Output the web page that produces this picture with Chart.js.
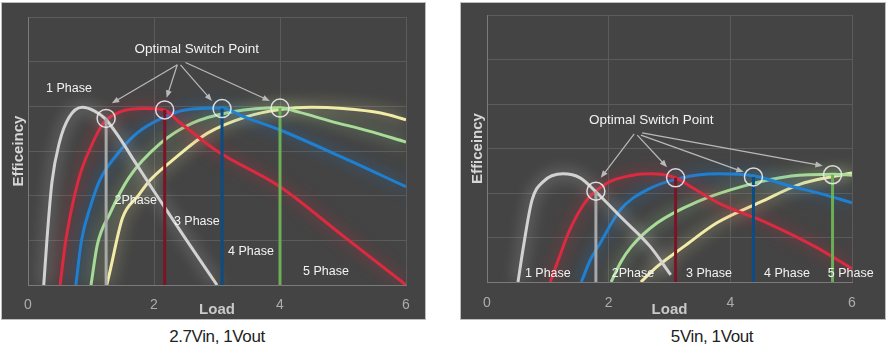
<!DOCTYPE html>
<html>
<head>
<meta charset="utf-8">
<script src="https://cdn.jsdelivr.net/npm/chart.js@4.4.0/dist/chart.umd.min.js"></script>
<style>
  body { margin: 0; width: 888px; height: 359px; background: #fff; position: relative; overflow: hidden;
         font-family: "Liberation Sans", Arial, sans-serif; }
  .box { position: absolute; top: 3px; height: 316px; background: #444; box-shadow: 0 0 0 1px #bdbdbd; }
  #boxL { left: 2px; width: 423px; }
  #boxR { left: 461px; width: 424px; }
  .cap { position: absolute; top: 328px; width: 220px; text-align: center; font-size: 17px;
         line-height: 17px; color: #222; letter-spacing: -0.4px; }
</style>
</head>
<body>
<div class="box" id="boxL"><canvas id="chartL" width="423" height="316"></canvas></div>
<div class="box" id="boxR"><canvas id="chartR" width="424" height="316"></canvas></div>
<div class="cap" style="left:107px">2.7Vin, 1Vout</div>
<div class="cap" style="left:602px">5Vin, 1Vout</div>

<script>
// ---- data (load, efficiency) ----
var xTicks = [0, 2, 4, 6];
var phaseNames = ['1 Phase', '2Phase', '3 Phase', '4 Phase', '5 Phase'];

// 2.7Vin, 1Vout
var l1Load = [0.25, 0.3, 0.38, 0.5, 0.65, 0.86, 1.05, 1.22, 1.45, 1.7, 2.0, 2.5, 3.0];
var l1Eff  = [0, 1.0, 2.3, 3.2, 3.75, 3.98, 3.9, 3.73, 3.3, 2.75, 2.1, 1.04, 0];
var l2Load = [0.51, 0.6, 0.8, 1.0, 1.2, 1.45, 1.85, 2.16, 2.4, 3.0, 4.0, 5.0, 6.0];
var l2Eff  = [0, 1.0, 2.35, 3.1, 3.63, 3.87, 3.95, 3.92, 3.65, 3.0, 2.2, 1.1, 0];
var l3Load = [0.76, 0.85, 1.0, 1.14, 1.4, 1.73, 2.1, 2.5, 3.08, 3.4, 4.0, 5.0, 6.0];
var l3Eff  = [0, 1.0, 1.8, 2.35, 2.9, 3.4, 3.72, 3.92, 3.96, 3.78, 3.47, 2.85, 2.2];
var l4Load = [1.0, 1.1, 1.3, 1.6, 2.1, 2.6, 3.25, 4.0, 4.3, 4.8, 5.4, 6.0];
var l4Eff  = [0, 0.9, 1.6, 2.4, 3.17, 3.62, 3.88, 3.97, 3.87, 3.67, 3.45, 3.2];
var l5Load = [1.25, 1.3, 1.5, 1.75, 1.94, 2.3, 2.85, 3.45, 4.0, 4.5, 5.0, 5.6, 6.0];
var l5Eff  = [0, 0.3, 1.5, 2.0, 2.35, 2.8, 3.4, 3.76, 3.93, 3.98, 3.95, 3.85, 3.7];
var lSwitchLoad = [1.24, 2.17, 3.08, 4.0];
var lSwitchEff  = [3.73, 3.92, 3.95, 3.96];

// 5Vin, 1Vout
var r1Load = [0.51, 0.59, 0.74, 0.92, 1.25, 1.53, 1.78, 2.2, 2.68, 3.02];
var r1Eff  = [0, 0.72, 1.84, 2.25, 2.43, 2.34, 2.04, 1.46, 0.8, 0.16];
var r2Load = [1.04, 1.2, 1.36, 1.64, 1.97, 2.4, 2.7, 3.1, 3.4, 3.8, 4.6, 5.4, 6.0];
var r2Eff  = [0, 0.6, 1.17, 1.84, 2.22, 2.4, 2.43, 2.34, 2.1, 1.78, 1.33, 0.79, 0.3];
var r3Load = [1.55, 1.7, 1.86, 2.19, 2.63, 3.2, 3.8, 4.4, 5.0, 5.5, 6.0];
var r3Eff  = [0, 0.5, 0.87, 1.62, 2.07, 2.34, 2.43, 2.38, 2.15, 1.98, 1.78];
var r4Load = [2.04, 2.2, 2.37, 2.8, 3.45, 4.2, 5.0, 5.7, 6.0];
var r4Eff  = [0, 0.45, 0.79, 1.33, 1.8, 2.15, 2.38, 2.42, 2.4];
var r5Load = [2.53, 2.8, 3.24, 3.78, 4.5, 5.15, 5.6, 6.0];
var r5Eff  = [0, 0.35, 0.8, 1.33, 1.8, 2.2, 2.35, 2.45];
var rSwitchLoad = [1.79, 3.1, 4.38, 5.68];
var rSwitchEff  = [2.04, 2.34, 2.36, 2.41];

var curveColors = ['#d2d2d2', '#dc2a40', '#1f80d2', '#a8dc98', '#f2eca8'];
var stemColors  = ['#a8a8a8', '#7d1426', '#0b4c84', '#6cae55'];

function pts(xs, ys) {
  return xs.map(function (x, i) { return {x: x, y: ys[i]}; });
}

function hexA(hex, a) {
  var n = parseInt(hex.slice(1), 16);
  return 'rgba(' + (n >> 16) + ',' + ((n >> 8) & 255) + ',' + (n & 255) + ',' + a + ')';
}

function buildDatasets(curves, swLoad, swEff) {
  var sets = [];
  curves.forEach(function (c, i) {
    sets.push({
      data: pts(c[0], c[1]), showLine: true, borderColor: curveColors[i], borderWidth: 3,
      pointRadius: 0, cubicInterpolationMode: 'monotone', glow: hexA(curveColors[i], 0.8), order: 3
    });
  });
  swLoad.forEach(function (x, i) {
    sets.push({
      data: [{x: x, y: 0}, {x: x, y: swEff[i]}], showLine: true, borderColor: stemColors[i],
      borderWidth: 3, pointRadius: 0, order: 2
    });
  });
  sets.push({
    data: pts(swLoad, swEff), showLine: false, pointRadius: 9, pointBorderWidth: 1.5,
    pointBorderColor: 'rgba(235,235,235,0.9)', pointBackgroundColor: 'rgba(0,0,0,0)', order: 1
  });
  return sets;
}

// soft halo round each curve
var glowPlugin = {
  id: 'glow',
  beforeDatasetDraw: function (chart, args) {
    var ds = chart.data.datasets[args.index];
    chart.ctx.save();
    if (ds.glow) {
      chart.ctx.shadowColor = ds.glow;
      chart.ctx.shadowBlur = 15;
    }
  },
  afterDatasetDraw: function (chart) {
    chart.ctx.restore();
  }
};

// "Optimal Switch Point" with arrows, and the phase labels
var notesPlugin = {
  id: 'notes',
  afterDatasetsDraw: function (chart, args, opts) {
    var ctx = chart.ctx, sx = chart.scales.x, sy = chart.scales.y;
    function px(p) { return [sx.getPixelForValue(p[0]), sy.getPixelForValue(p[1])]; }
    ctx.save();
    ctx.strokeStyle = '#b9b9b9';
    ctx.fillStyle = '#b9b9b9';
    ctx.lineWidth = 1.2;
    opts.arrows.forEach(function (a) {
      var s = px(a[0]), e = px(a[1]);
      var ang = Math.atan2(e[1] - s[1], e[0] - s[0]), h = 8;
      ctx.beginPath();
      ctx.moveTo(s[0], s[1]);
      ctx.lineTo(e[0] - h * 0.8 * Math.cos(ang), e[1] - h * 0.8 * Math.sin(ang));
      ctx.stroke();
      ctx.beginPath();
      ctx.moveTo(e[0], e[1]);
      ctx.lineTo(e[0] - h * Math.cos(ang - 0.38), e[1] - h * Math.sin(ang - 0.38));
      ctx.lineTo(e[0] - h * Math.cos(ang + 0.38), e[1] - h * Math.sin(ang + 0.38));
      ctx.closePath();
      ctx.fill();
    });
    ctx.textAlign = 'center';
    ctx.textBaseline = 'middle';
    ctx.fillStyle = '#f2f2f2';
    ctx.font = '13.5px "Liberation Sans", Arial, sans-serif';
    var t = px(opts.titleAt);
    ctx.fillText('Optimal Switch Point', t[0], t[1]);
    ctx.font = '12.5px "Liberation Sans", Arial, sans-serif';
    opts.labelsAt.forEach(function (p, i) {
      var q = px(p);
      ctx.fillText(phaseNames[i], q[0], q[1]);
    });
    ctx.restore();
  }
};

function makeChart(id, curves, swLoad, swEff, pad, axisH, notes) {
  return new Chart(document.getElementById(id), {
    type: 'scatter',
    data: { datasets: buildDatasets(curves, swLoad, swEff) },
    plugins: [glowPlugin, notesPlugin],
    options: {
      responsive: false,
      animation: false,
      layout: { padding: pad },
      plugins: { legend: { display: false }, tooltip: { enabled: false }, notes: notes },
      scales: {
        x: {
          type: 'linear', min: 0, max: 6,
          afterBuildTicks: function (s) { s.ticks = xTicks.map(function (v) { return {value: v}; }); },
          afterFit: function (s) { s.height = axisH.h; },
          grid: { color: '#5b5b5b', drawTicks: false },
          border: { color: '#7a7a7a' },
          ticks: { color: '#adadad', padding: axisH.tp, font: { size: 14, family: '"Liberation Sans", Arial' } },
          title: { display: true, text: 'Load', color: '#c9c9c9', padding: { top: 0, bottom: 0 },
                   font: { size: 15, weight: 'bold', family: '"Liberation Sans", Arial' } }
        },
        y: {
          min: 0, max: 6,
          afterFit: function (s) { s.width = 26; },
          grid: { color: '#5b5b5b', drawTicks: false },
          border: { color: '#7a7a7a' },
          ticks: { display: false, stepSize: 1 },
          title: { display: true, text: 'Efficeincy', color: '#d6d6d6', padding: { top: 8, bottom: 0 },
                   font: { size: 15, weight: 'bold', family: '"Liberation Sans", Arial' } }
        }
      }
    }
  });
}

makeChart('chartL',
  [[l1Load, l1Eff], [l2Load, l2Eff], [l3Load, l3Eff], [l4Load, l4Eff], [l5Load, l5Eff]],
  lSwitchLoad, lSwitchEff,
  { left: 0, top: 14, right: 19, bottom: 0 }, { h: 34, tp: 12 },
  {
    titleAt: [2.68, 5.28],
    arrows: [[[2.37, 4.93], [1.33, 4.07]], [[2.37, 4.93], [2.2, 4.19]],
             [[2.42, 4.93], [2.92, 4.12]], [[2.5, 4.98], [3.84, 4.12]]],
    labelsAt: [[0.65, 4.39], [1.71, 1.9], [2.68, 1.41], [3.54, 0.76], [4.73, 0.29]]
  });

makeChart('chartR',
  [[r1Load, r1Eff], [r2Load, r2Eff], [r3Load, r3Eff], [r4Load, r4Eff], [r5Load, r5Eff]],
  rSwitchLoad, rSwitchEff,
  { left: 0, top: 12, right: 33, bottom: 0 }, { h: 37, tp: 13 },
  {
    titleAt: [2.7, 3.64],
    arrows: [[[2.42, 3.33], [1.87, 2.34]], [[2.47, 3.3], [2.96, 2.58]],
             [[2.53, 3.3], [4.22, 2.47]], [[2.55, 3.35], [5.52, 2.61]]],
    labelsAt: [[1.0, 0.2], [2.4, 0.2], [3.65, 0.2], [4.93, 0.2], [5.98, 0.2]]
  });
</script>
</body>
</html>
